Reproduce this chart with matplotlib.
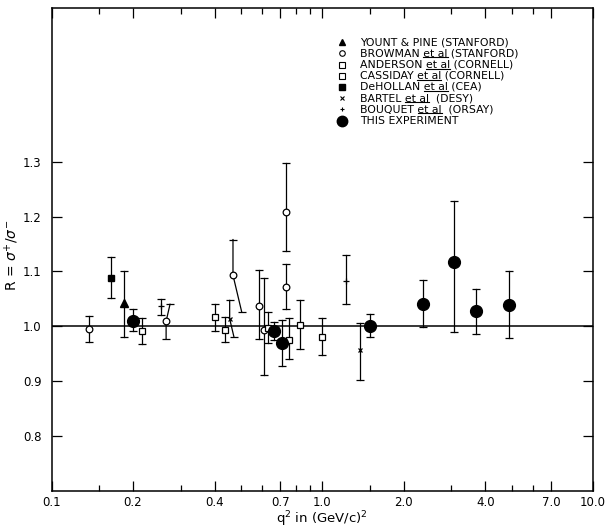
import matplotlib
matplotlib.use('Agg')
from matplotlib import pyplot as plt
from matplotlib.lines import Line2D
from matplotlib.ticker import NullFormatter

# ---- data: q^2 in (GeV/c)^2, R = sigma+/sigma- ----
# each error bar: lower cap (q_lo, r_lo), point (q, r), upper cap (q_hi, r_hi)
# (q_lo / q_hi differ from q where the published bar is drawn displaced)

# Yount & Pine (Stanford)
yp_q = [0.186]
yp_r = [1.043]
yp_lo = [0.980]
yp_hi = [1.101]

# Browman et al (Stanford)
br_q = [0.137, 0.265, 0.468, 0.582, 0.608, 0.736, 0.736]
br_r = [0.994, 1.009, 1.093, 1.037, 0.993, 1.209, 1.071]
br_lo = [0.972, 0.977, 1.026, 0.976, 0.910, 1.137, 1.032]
br_hi = [1.019, 1.040, 1.158, 1.103, 1.088, 1.298, 1.114]
br_qlo = [0.137, 0.265, 0.504, 0.582, 0.608, 0.736, 0.736]
br_qhi = [0.137, 0.274, 0.468, 0.582, 0.608, 0.736, 0.736]

# Anderson et al (Cornell)
an_q = [0.216, 0.400, 0.438, 0.630]
an_r = [0.991, 1.016, 0.993, 0.997]
an_lo = [0.967, 0.991, 0.971, 0.970]
an_hi = [1.015, 1.041, 1.017, 1.026]

# Cassiday et al (Cornell)
ca_q = [0.756, 0.825, 0.996]
ca_r = [0.975, 1.003, 0.981]
ca_lo = [0.941, 0.958, 0.947]
ca_hi = [1.015, 1.048, 1.014]

# DeHollan et al (CEA)
dh_q = [0.166]
dh_r = [1.088]
dh_lo = [1.052]
dh_hi = [1.127]

# Bartel et al (DESY)
ba_q = [0.455, 1.375]
ba_r = [1.0135, 0.956]
ba_lo = [0.980, 0.901]
ba_hi = [1.047, 1.006]
ba_qlo = [0.472, 1.375]
ba_qhi = [0.455, 1.375]

# Bouquet et al (Orsay)
bo_q = [0.253, 1.225]
bo_r = [1.0365, 1.082]
bo_lo = [1.021, 1.040]
bo_hi = [1.050, 1.130]

# This experiment
te_q = [0.200, 0.661, 0.712, 1.497, 2.36, 3.07, 3.70, 4.89]
te_r = [1.010, 0.992, 0.970, 1.001, 1.041, 1.117, 1.028, 1.038]
te_lo = [0.991, 0.975, 0.927, 0.980, 0.998, 0.989, 0.986, 0.978]
te_hi = [1.031, 1.008, 1.012, 1.022, 1.085, 1.229, 1.067, 1.101]

xticks = [0.1, 0.2, 0.4, 0.7, 1.0, 2.0, 4.0, 7.0, 10.0]
xticklabels = ['0.1', '0.2', '0.4', '0.7', '1.0', '2.0', '4.0', '7.0', '10.0']
xminor = [0.15, 0.3, 0.5, 0.6, 0.8, 0.9, 1.5, 3.0, 5.0, 6.0]
yticks = [0.8, 0.9, 1.0, 1.1, 1.2, 1.3]
yticklabels = ['0.8', '0.9', '1.0', '1.1', '1.2', '1.3']

plt.rcParams['font.family'] = ['DejaVu Sans']

fig = plt.figure(figsize=(6.06, 5.31), dpi=100)
ax = fig.add_axes([0.085, 0.0761, 0.8936, 0.9083])


def draw_series(q, r, lo, hi, qlo=None, qhi=None, **mk):
    if qlo is None:
        qlo = q
    if qhi is None:
        qhi = q
    for i in range(len(q)):
        ax.plot([qlo[i], q[i], qhi[i]], [lo[i], r[i], hi[i]], color='black',
                lw=0.9, zorder=2)
        ax.plot([qlo[i], qhi[i]], [lo[i], hi[i]], ls='none', marker='_',
                ms=5.5, mew=0.9, color='black', zorder=2)
    ax.plot(q, r, ls='none', zorder=4, **mk)


ax.axhline(1.0, color='black', lw=1.1, zorder=1)

draw_series(yp_q, yp_r, yp_lo, yp_hi, marker='^', ms=5.5, color='black')
draw_series(br_q, br_r, br_lo, br_hi, br_qlo, br_qhi, marker='o', ms=4.8,
            mfc='white', mec='black', mew=0.9)
draw_series(an_q, an_r, an_lo, an_hi, marker='s', ms=4.5, mfc='white',
            mec='black', mew=0.9)
draw_series(ca_q, ca_r, ca_lo, ca_hi, marker='s', ms=4.5, mfc='white',
            mec='black', mew=0.9)
draw_series(dh_q, dh_r, dh_lo, dh_hi, marker='s', ms=5, color='black')
draw_series(ba_q, ba_r, ba_lo, ba_hi, ba_qlo, ba_qhi, marker='x', ms=3.5,
            mew=0.9, color='black')
draw_series(bo_q, bo_r, bo_lo, bo_hi, marker='+', ms=4, mew=0.9, color='black')
draw_series(te_q, te_r, te_lo, te_hi, marker='o', ms=8.5, color='black')

ax.set_xscale('log')
ax.set_xlim(0.1, 10.0)
ax.set_ylim(0.70, 1.58)
ax.set_xticks(xticks, xticklabels)
ax.set_xticks(xminor, minor=True)
ax.xaxis.set_minor_formatter(NullFormatter())
ax.set_yticks(yticks, yticklabels)
ax.tick_params(which='both', direction='in', top=True, right=True,
               width=0.9, labelsize=8.5)
ax.tick_params(which='major', length=7)
ax.tick_params(which='minor', length=4)
ax.tick_params(axis='x', pad=4)
ax.tick_params(axis='y', pad=7)
for s in ax.spines.values():
    s.set_linewidth(1.1)

ax.set_xlabel(r'q$^2$ in (GeV/c)$^2$', fontsize=9.5, labelpad=0)
ax.set_ylabel(r'R = $\sigma^{+}/\sigma^{-}$', fontsize=10)
ax.yaxis.set_label_coords(-0.057, 0.488)

# ---- legend, drawn by hand so "et al" can be underlined ----
legend_rows = [
    (dict(marker='^', ms=4.5, color='black'), 'YOUNT & PINE', '', '(STANFORD)'),
    (dict(marker='o', ms=4, mfc='white', mec='black', mew=0.8), 'BROWMAN', 'et al', '(STANFORD)'),
    (dict(marker='s', ms=4, mfc='white', mec='black', mew=0.8), 'ANDERSON', 'et al', '(CORNELL)'),
    (dict(marker='s', ms=4, mfc='white', mec='black', mew=0.8), 'CASSIDAY', 'et al', '(CORNELL)'),
    (dict(marker='s', ms=4.5, color='black'), 'DeHOLLAN', 'et al', '(CEA)'),
    (dict(marker='x', ms=3.2, mew=0.8, color='black'), 'BARTEL', 'et al', ' (DESY)'),
    (dict(marker='+', ms=3.5, mew=0.8, color='black'), 'BOUQUET', 'et al', ' (ORSAY)'),
    (dict(marker='o', ms=7.5, color='black'), 'THIS EXPERIMENT', '', ''),
]
mx, tx, y0, dy = 0.537, 0.570, 0.930, 0.0233
fs = 7.8
underlined = []
for i, (mk, name, etal, inst) in enumerate(legend_rows):
    y = y0 - i * dy
    ax.plot([mx], [y], transform=ax.transAxes, clip_on=False, ls='none', **mk)
    label = ' '.join(p for p in [name, etal, inst] if p)
    t = ax.text(tx, y, label, transform=ax.transAxes, va='center', fontsize=fs)
    if etal:
        underlined.append((t, name + ' ' + etal, etal))

fig.canvas.draw()
rend = fig.canvas.get_renderer()
inv = fig.transFigure.inverted()
for t, upto, part in underlined:
    bb = t.get_window_extent(rend)
    tmp = ax.text(0, 0, upto, fontsize=fs)
    w_upto = tmp.get_window_extent(rend).width
    tmp.set_text(part)
    w_part = tmp.get_window_extent(rend).width
    tmp.remove()
    xa = bb.x0 + w_upto - w_part
    xb = bb.x0 + w_upto
    yl = bb.y0 + 1.0
    (x0, yy), (x1, _) = inv.transform([[xa, yl], [xb, yl]])
    fig.add_artist(Line2D([x0, x1], [yy, yy], color='black', lw=0.8,
                          transform=fig.transFigure))

fig.savefig('out.png', dpi=100)
